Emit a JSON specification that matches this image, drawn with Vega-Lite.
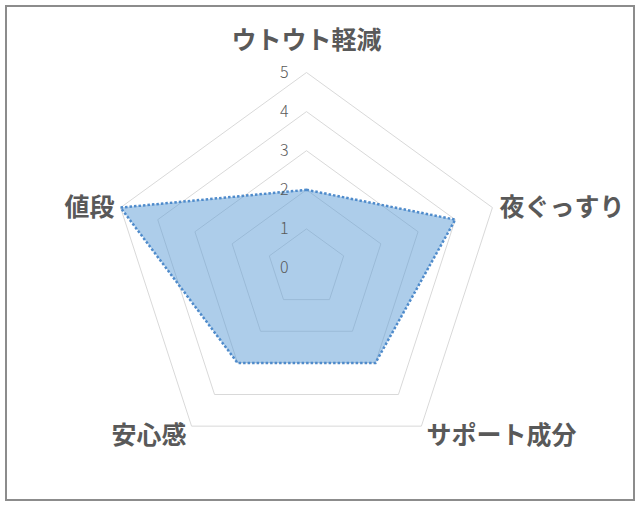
{
  "$schema": "https://vega.github.io/schema/vega-lite/v6.json",
  "width": 628,
  "height": 494,
  "autosize": {"type": "none"},
  "padding": {"left": 6, "top": 6, "right": 6, "bottom": 6},
  "background": "white",
  "config": {
    "view": {"stroke": "#8C8C8C", "strokeWidth": 2},
    "font": "Noto Sans CJK JP"
  },
  "datasets": {
    "scores": [
      {"項目": "ウトウト軽減", "i": 0, "値": 2},
      {"項目": "夜ぐっすり", "i": 1, "値": 4},
      {"項目": "サポート成分", "i": 2, "値": 3},
      {"項目": "安心感", "i": 3, "値": 3},
      {"項目": "値段", "i": 4, "値": 5}
    ],
    "grid": [
      {"i": 0, "level": [1, 2, 3, 4, 5]},
      {"i": 1, "level": [1, 2, 3, 4, 5]},
      {"i": 2, "level": [1, 2, 3, 4, 5]},
      {"i": 3, "level": [1, 2, 3, 4, 5]},
      {"i": 4, "level": [1, 2, 3, 4, 5]}
    ],
    "ticks": [
      {"t": 0}, {"t": 1}, {"t": 2}, {"t": 3}, {"t": 4}, {"t": 5}
    ]
  },
  "layer": [
    {
      "data": {"name": "grid"},
      "transform": [
        {"flatten": ["level"]},
        {"calculate": "datum.level * sin(datum.i * 2 * PI / 5)", "as": "x"},
        {"calculate": "datum.level * cos(datum.i * 2 * PI / 5)", "as": "y"}
      ],
      "mark": {"type": "line", "interpolate": "linear-closed", "stroke": "#D9D9D9", "strokeWidth": 1},
      "encoding": {
        "x": {"field": "x", "type": "quantitative", "scale": {"domain": [-7.685, 8.376], "nice": false, "zero": false}, "axis": null},
        "y": {"field": "y", "type": "quantitative", "scale": {"domain": [-5.934, 6.701], "nice": false, "zero": false}, "axis": null},
        "detail": {"field": "level"},
        "order": {"field": "i"}
      }
    },
    {
      "data": {"name": "scores"},
      "transform": [
        {"calculate": "datum['値'] * sin(datum.i * 2 * PI / 5)", "as": "x"},
        {"calculate": "datum['値'] * cos(datum.i * 2 * PI / 5)", "as": "y"}
      ],
      "mark": {"type": "line", "interpolate": "linear-closed", "fill": "#5B9BD5", "fillOpacity": 0.5, "stroke": "#4F8BCB", "strokeWidth": 2.5, "strokeDash": [2.5, 2]},
      "encoding": {
        "x": {"field": "x", "type": "quantitative"},
        "y": {"field": "y", "type": "quantitative"},
        "order": {"field": "i"}
      }
    },
    {
      "data": {"name": "ticks"},
      "transform": [
        {"calculate": "0", "as": "x"}
      ],
      "mark": {"type": "text", "align": "right", "baseline": "middle", "dx": -18, "fontSize": 16, "fontWeight": 300, "color": "#595959"},
      "encoding": {
        "x": {"field": "x", "type": "quantitative"},
        "y": {"field": "t", "type": "quantitative"},
        "text": {"field": "t"}
      }
    },
    {
      "data": {"name": "scores"},
      "transform": [
        {"filter": "datum.i == 0"},
        {"calculate": "5 * sin(datum.i * 2 * PI / 5)", "as": "x"},
        {"calculate": "5 * cos(datum.i * 2 * PI / 5)", "as": "y"}
      ],
      "mark": {"type": "text", "align": "center", "baseline": "middle", "dy": -32, "fontSize": 25, "fontWeight": "bold", "color": "#595959"},
      "encoding": {
        "x": {"field": "x", "type": "quantitative"},
        "y": {"field": "y", "type": "quantitative"},
        "text": {"field": "項目"}
      }
    },
    {
      "data": {"name": "scores"},
      "transform": [
        {"filter": "datum.i == 1"},
        {"calculate": "5 * sin(datum.i * 2 * PI / 5)", "as": "x"},
        {"calculate": "5 * cos(datum.i * 2 * PI / 5)", "as": "y"}
      ],
      "mark": {"type": "text", "align": "left", "baseline": "middle", "dx": 7, "fontSize": 25, "fontWeight": "bold", "color": "#595959"},
      "encoding": {
        "x": {"field": "x", "type": "quantitative"},
        "y": {"field": "y", "type": "quantitative"},
        "text": {"field": "項目"}
      }
    },
    {
      "data": {"name": "scores"},
      "transform": [
        {"filter": "datum.i == 2"},
        {"calculate": "5 * sin(datum.i * 2 * PI / 5)", "as": "x"},
        {"calculate": "5 * cos(datum.i * 2 * PI / 5)", "as": "y"}
      ],
      "mark": {"type": "text", "align": "left", "baseline": "middle", "dx": 5, "dy": 10, "fontSize": 25, "fontWeight": "bold", "color": "#595959"},
      "encoding": {
        "x": {"field": "x", "type": "quantitative"},
        "y": {"field": "y", "type": "quantitative"},
        "text": {"field": "項目"}
      }
    },
    {
      "data": {"name": "scores"},
      "transform": [
        {"filter": "datum.i == 3"},
        {"calculate": "5 * sin(datum.i * 2 * PI / 5)", "as": "x"},
        {"calculate": "5 * cos(datum.i * 2 * PI / 5)", "as": "y"}
      ],
      "mark": {"type": "text", "align": "right", "baseline": "middle", "dx": -5, "dy": 10, "fontSize": 25, "fontWeight": "bold", "color": "#595959"},
      "encoding": {
        "x": {"field": "x", "type": "quantitative"},
        "y": {"field": "y", "type": "quantitative"},
        "text": {"field": "項目"}
      }
    },
    {
      "data": {"name": "scores"},
      "transform": [
        {"filter": "datum.i == 4"},
        {"calculate": "5 * sin(datum.i * 2 * PI / 5)", "as": "x"},
        {"calculate": "5 * cos(datum.i * 2 * PI / 5)", "as": "y"}
      ],
      "mark": {"type": "text", "align": "right", "baseline": "middle", "dx": -6, "fontSize": 25, "fontWeight": "bold", "color": "#595959"},
      "encoding": {
        "x": {"field": "x", "type": "quantitative"},
        "y": {"field": "y", "type": "quantitative"},
        "text": {"field": "項目"}
      }
    }
  ]
}
